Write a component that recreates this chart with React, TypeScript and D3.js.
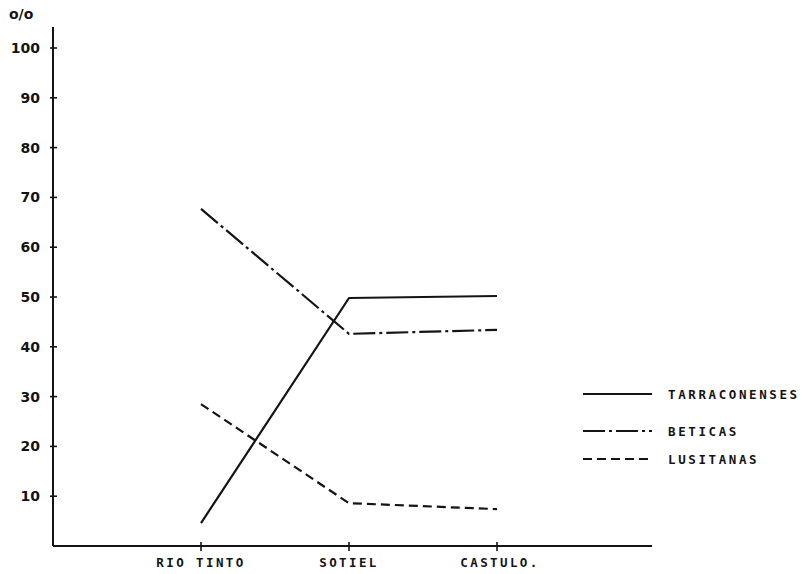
import { useRef, useEffect } from 'react';
import * as d3 from 'd3';

const WIDTH = 805;
const HEIGHT = 574;

const sites = ['RIO TINTO', 'SOTIEL', 'CASTULO.'];
const tarraconenses = [4.6, 49.8, 50.2];
const beticas = [67.7, 42.6, 43.4];
const lusitanas = [28.5, 8.6, 7.4];
const yTicks = [10, 20, 30, 40, 50, 60, 70, 80, 90, 100];

const seriesNames = ['TARRACONENSES', 'BETICAS', 'LUSITANAS'];
const seriesDash = ['none', '22,4,3,4', '9,5'];

const INK = '#141414';
const MONO = '"DejaVu Sans Mono", "Liberation Mono", monospace';
const SANS = '"DejaVu Sans", sans-serif';

export default function App() {
  const svgRef = useRef<SVGSVGElement>(null);

  useEffect(() => {
    const svg = svgRef.current;
    if (!svg) return;
    d3.select(svg).selectAll('*').remove();
    const root = d3.select(svg);

    const x = d3.scaleLinear().domain([-1, 3]).range([53, 645]);
    const y = d3.scaleLinear().domain([0, 100]).range([546, 48]);

    // axes
    root.append('line')
      .attr('x1', x(-1)).attr('x2', 652)
      .attr('y1', y(0)).attr('y2', y(0))
      .attr('stroke', INK).attr('stroke-width', 2);
    root.append('line')
      .attr('x1', x(-1)).attr('x2', x(-1))
      .attr('y1', 27).attr('y2', y(0))
      .attr('stroke', INK).attr('stroke-width', 2);

    // y ticks
    root.selectAll('.ytick')
      .data(yTicks)
      .enter()
      .append('line')
      .attr('x1', x(-1) - 3).attr('x2', x(-1) + 4)
      .attr('y1', (d) => y(d)).attr('y2', (d) => y(d))
      .attr('stroke', INK).attr('stroke-width', 1.6);

    root.selectAll('.ylabel')
      .data(yTicks)
      .enter()
      .append('text')
      .attr('x', 40)
      .attr('y', (d) => y(d) + 5)
      .attr('text-anchor', 'end')
      .attr('font-family', SANS)
      .attr('font-weight', 'bold')
      .attr('font-size', 14)
      .attr('fill', INK)
      .text((d) => d.toString());

    root.append('text')
      .attr('x', 9).attr('y', 19)
      .attr('font-family', SANS)
      .attr('font-weight', 'bold')
      .attr('font-size', 14)
      .attr('fill', INK)
      .text('o/o');

    // x ticks
    root.selectAll('.xtick')
      .data(sites)
      .enter()
      .append('line')
      .attr('x1', (_d, i) => x(i)).attr('x2', (_d, i) => x(i))
      .attr('y1', y(0) - 4).attr('y2', y(0) + 5)
      .attr('stroke', INK).attr('stroke-width', 1.6);

    root.selectAll('.xlabel')
      .data(sites)
      .enter()
      .append('text')
      .attr('x', (_d, i) => x(i) + (i === 2 ? 3 : 0))
      .attr('y', 567)
      .attr('text-anchor', 'middle')
      .attr('font-family', MONO)
      .attr('font-weight', 'bold')
      .attr('font-size', 12.5)
      .attr('letter-spacing', 2.4)
      .attr('fill', INK)
      .text((d) => d);

    // series
    const line = d3.line<number>()
      .x((_d, i) => x(i))
      .y((d) => y(d));

    [tarraconenses, beticas, lusitanas].forEach((vals, k) => {
      root.append('path')
        .attr('d', line(vals))
        .attr('fill', 'none')
        .attr('stroke', INK)
        .attr('stroke-width', 2.2)
        .attr('stroke-dasharray', seriesDash[k])
        .attr('stroke-linejoin', 'round');
    });

    // legend
    const legendY = [394, 431, 459];
    seriesNames.forEach((name, k) => {
      root.append('line')
        .attr('x1', 583).attr('x2', 652)
        .attr('y1', legendY[k]).attr('y2', legendY[k])
        .attr('stroke', INK)
        .attr('stroke-width', 2.2)
        .attr('stroke-dasharray', seriesDash[k]);
      root.append('text')
        .attr('x', 668)
        .attr('y', legendY[k] + 4.5)
        .attr('font-family', MONO)
        .attr('font-weight', 'bold')
        .attr('font-size', 12.5)
        .attr('letter-spacing', 2.6)
        .attr('fill', INK)
        .text(name);
    });
  }, []);

  return (
    <svg
      ref={svgRef}
      width={WIDTH}
      height={HEIGHT}
      style={{ position: 'absolute', top: 0, left: 0, background: '#fff' }}
    />
  );
}
